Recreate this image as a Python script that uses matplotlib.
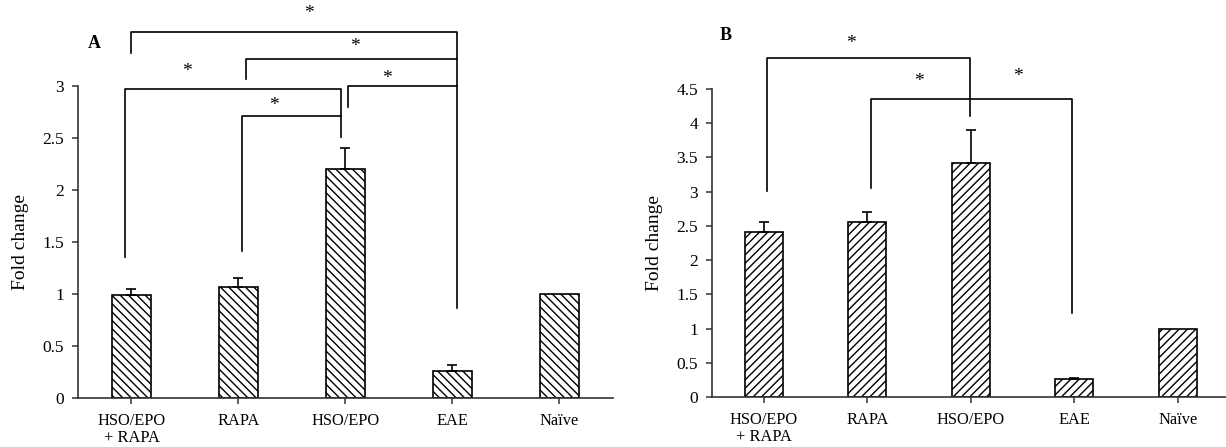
import matplotlib.pyplot as plt
import numpy as np

plt.rcParams['font.family'] = ['Liberation Serif', 'DejaVu Serif']
plt.rcParams['hatch.linewidth'] = 1.0

# data
groups = ['HSO/EPO\n+ RAPA', 'RAPA', 'HSO/EPO', 'EAE', 'Naïve']
fold_a = [0.99, 1.07, 2.20, 0.26, 1.00]
err_a = [0.06, 0.08, 0.20, 0.06, 0.0]
fold_b = [2.41, 2.56, 3.42, 0.27, 1.00]
err_b = [0.15, 0.15, 0.48, 0.01, 0.0]

# significance brackets: (x left, x right, y top, left leg bottom, right leg bottom)
brackets_a = [(0.0, 3.04, 3.52, 3.32, 0.87),
              (1.07, 3.04, 3.26, 3.07, 3.26),
              (-0.06, 1.96, 2.97, 1.36, 2.51),
              (2.02, 3.04, 3.00, 2.80, 3.00),
              (1.03, 1.96, 2.71, 1.41, 2.71)]
stars_a = [(1.66, 3.70), (2.09, 3.38), (0.52, 3.14), (2.39, 3.07), (1.33, 2.81)]
brackets_b = [(0.03, 1.99, 4.95, 3.01, 4.10),
              (1.04, 2.98, 4.36, 3.05, 1.23)]
stars_b = [(0.84, 5.17), (1.50, 4.61), (2.46, 4.68)]


def panel(ax, vals, errs, hatch, ymax, ystep, brackets, stars, letter, letter_pos):
    x = np.arange(len(groups))
    ax.bar(x, vals, width=0.37, color='white', edgecolor='black', linewidth=1.2,
           hatch=hatch, zorder=2)
    errs = np.array(errs)
    mask = errs > 0
    ax.errorbar(x[mask], np.array(vals)[mask], yerr=[np.zeros(mask.sum()), errs[mask]],
                fmt='none', ecolor='black', elinewidth=1.2, capsize=3.5, capthick=1.2, zorder=3)
    ax.set_xlim(-0.5, len(groups) - 0.5)
    ax.set_ylim(0, ymax)
    yt = np.arange(0, ymax + 0.01, ystep)
    ax.set_yticks(yt)
    ax.set_yticklabels(['%g' % v for v in yt], fontsize=12.5)
    ax.set_xticks(x)
    ax.set_xticklabels(groups, fontsize=11.8, linespacing=1.1)
    ax.tick_params(axis='both', direction='out', length=4, width=1.1, color='#333333')
    ax.tick_params(axis='y', pad=6)
    ax.tick_params(axis='x', pad=7)
    for s in ['top', 'right']:
        ax.spines[s].set_visible(False)
    for s in ['left', 'bottom']:
        ax.spines[s].set_linewidth(1.2)
        ax.spines[s].set_color('#333333')
    ax.set_ylabel('Fold change', fontsize=14, labelpad=10)
    for x0, x1, yt_, yl, yr in brackets:
        ax.plot([x0, x0, x1, x1], [yl, yt_, yt_, yr], color='black', lw=1.2, clip_on=False)
    for sx, sy in stars:
        ax.text(sx, sy, '*', fontsize=14, ha='center', va='center', clip_on=False)
    ax.text(letter_pos[0], letter_pos[1], letter, fontsize=13, fontweight='bold',
            ha='center', va='center')


fig = plt.figure(figsize=(12.26, 4.47), dpi=100)
ax_a = fig.add_axes([0.0636, 0.1096, 0.4364, 0.698])
ax_b = fig.add_axes([0.5808, 0.1119, 0.4221, 0.689])

panel(ax_a, fold_a, err_a, '\\\\\\\\', 3, 0.5, brackets_a, stars_a, 'A', (-0.35, 3.41))
panel(ax_b, fold_b, err_b, '////', 4.5, 0.5, brackets_b, stars_b, 'B', (-0.37, 5.28))

fig.savefig('out.png', dpi=100)
